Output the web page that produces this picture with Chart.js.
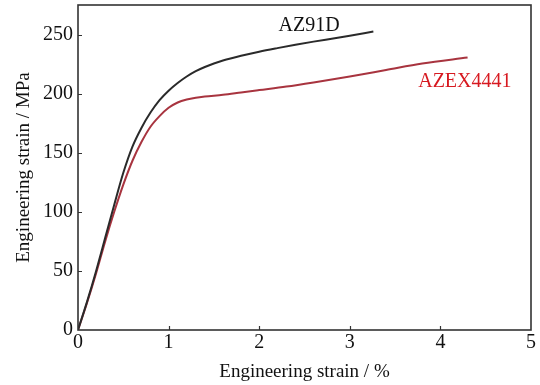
<!DOCTYPE html>
<html>
<head>
<meta charset="utf-8">
<script src="https://cdn.jsdelivr.net/npm/chart.js@4.4.0/dist/chart.umd.min.js"></script>
<style>
html,body{margin:0;padding:0;background:#fff;}
#wrap{width:540px;height:385px;}
</style>
</head>
<body>
<div id="wrap"><canvas id="c" width="540" height="385"></canvas></div>
<script>
// Data (strain %, stress MPa)
const az91dStrain = [0, 0.1, 0.2, 0.3, 0.4, 0.5, 0.6, 0.7, 0.8, 0.9, 1.0, 1.1, 1.2, 1.3, 1.4, 1.5, 1.6, 1.8, 2.0, 2.2, 2.4, 2.6, 2.8, 3.0, 3.26];
const az91dStress = [0, 24, 50, 78, 106, 133, 155, 171, 184, 194.5, 202.5, 209, 214.5, 219, 222.5, 225.5, 228, 232, 235.5, 238.5, 241.3, 244, 246.5, 249, 252.5];
const azexStrain = [0, 0.1, 0.2, 0.3, 0.4, 0.5, 0.6, 0.7, 0.8, 0.9, 1.0, 1.1, 1.2, 1.3, 1.4, 1.6, 1.8, 2.0, 2.3, 2.6, 3.0, 3.4, 3.8, 4.3];
const azexStress = [0, 23, 48, 75, 100, 123, 143, 159, 172, 181, 188, 192.5, 195, 196.5, 197.5, 199, 201, 203, 206, 209.5, 214.5, 220, 225.5, 230.5];
const xTicks = [0, 1, 2, 3, 4, 5];
const yTicks = [0, 50, 100, 150, 200, 250];
const seriesNames = ['AZ91D', 'AZEX4441'];
const labelAnchors = [[2.55, 257.5], [4.27, 210]];
const labelColors = ['#111111', '#d71920'];

const FONT = '"Liberation Serif", "Times New Roman", serif';

function pts(xs, ys) { return xs.map((x, i) => ({x: x, y: ys[i]})); }

const inwardTicks = {
  id: 'inwardTicks',
  afterDatasetsDraw(chart) {
    const {ctx, chartArea: a, scales: {x, y}} = chart;
    ctx.save();
    ctx.strokeStyle = '#333';
    ctx.lineWidth = 1.2;
    ctx.beginPath();
    xTicks.forEach(v => {
      if (v === 0 || v === 5) return;
      const px = Math.round(x.getPixelForValue(v)) + 0.5;
      ctx.moveTo(px, a.bottom); ctx.lineTo(px, a.bottom - 4);
    });
    yTicks.forEach(v => {
      if (v === 0) return;
      const py = Math.round(y.getPixelForValue(v)) + 0.5;
      ctx.moveTo(a.left, py); ctx.lineTo(a.left + 4, py);
    });
    ctx.stroke();
    // frame
    ctx.lineWidth = 1.6;
    ctx.strokeRect(a.left, a.top, a.right - a.left, a.bottom - a.top);
    // series labels
    ctx.font = '20px ' + FONT;
    ctx.textAlign = 'center';
    ctx.textBaseline = 'middle';
    seriesNames.forEach((n, i) => {
      ctx.fillStyle = labelColors[i];
      ctx.fillText(n, x.getPixelForValue(labelAnchors[i][0]), y.getPixelForValue(labelAnchors[i][1]));
    });
    ctx.restore();
  }
};

new Chart(document.getElementById('c'), {
  type: 'scatter',
  data: {
    datasets: [
      {label: seriesNames[0], data: pts(az91dStrain, az91dStress), showLine: true, borderColor: '#2a2a2a', borderWidth: 2, pointRadius: 0, cubicInterpolationMode: 'monotone'},
      {label: seriesNames[1], data: pts(azexStrain, azexStress), showLine: true, borderColor: '#a8343f', borderWidth: 2, pointRadius: 0, cubicInterpolationMode: 'monotone'}
    ]
  },
  options: {
    responsive: false,
    animation: false,
    layout: {padding: {left: 0, right: 9, top: 5, bottom: 0}},
    plugins: {legend: {display: false}, tooltip: {enabled: false}},
    scales: {
      x: {
        type: 'linear', min: 0, max: 5,
        afterBuildTicks: s => { s.ticks = xTicks.map(v => ({value: v})); },
        afterFit: s => { s.height = 55; s.paddingLeft = 0; s.paddingRight = 0; },
        grid: {display: false, drawTicks: false},
        border: {display: false},
        ticks: {color: '#111', font: {family: FONT, size: 20}, padding: 1, maxRotation: 0},
        title: {display: true, text: 'Engineering strain / %', color: '#111', font: {family: FONT, size: 19}, padding: {top: 0, bottom: 2}}
      },
      y: {
        type: 'linear', min: 0, max: 275,
        afterBuildTicks: s => { s.ticks = yTicks.map(v => ({value: v})); },
        afterFit: s => { s.width = 78; s.paddingTop = 0; s.paddingBottom = 0; },
        grid: {display: false, drawTicks: false},
        border: {display: false},
        ticks: {color: '#111', font: {family: FONT, size: 20}, padding: 5},
        title: {display: true, text: 'Engineering strain / MPa', color: '#111', font: {family: FONT, size: 19}, padding: {top: 13, bottom: 0}}
      }
    }
  },
  plugins: [inwardTicks]
});
</script>
</body>
</html>
